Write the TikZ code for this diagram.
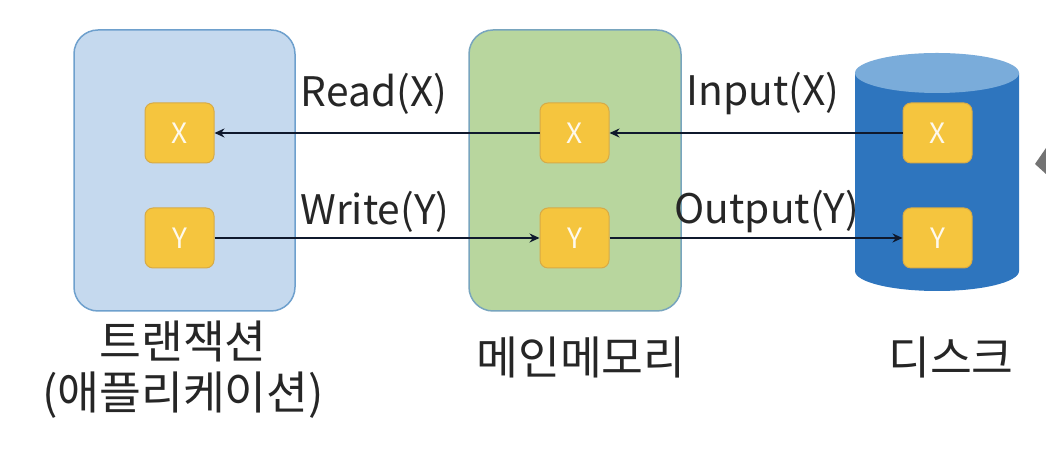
\documentclass[tikz,border=0pt]{standalone}
\usepackage{fontspec}
\setmainfont{Noto Sans CJK KR}
\usetikzlibrary{arrows.meta}
\definecolor{txnblue}{RGB}{197, 217, 238}
\definecolor{txnedge}{RGB}{110, 160, 205}
\definecolor{memgreen}{RGB}{184, 214, 158}
\definecolor{memedge}{RGB}{120, 165, 190}
\definecolor{diskblue}{RGB}{46, 117, 190}
\definecolor{disktop}{RGB}{122, 172, 218}
\definecolor{cellyellow}{RGB}{245, 197, 62}
\definecolor{celledge}{RGB}{215, 170, 70}
\definecolor{arrowdark}{RGB}{15, 25, 45}
\tikzset{
    panel/.style={draw, line width=1.5pt, rounded corners=24pt, inner sep=0pt, minimum height=281pt},
    cell/.style={fill=cellyellow, draw=celledge, line width=1pt, rounded corners=8pt, minimum width=69pt, minimum height=60pt, inner sep=0pt, text=white!90!cellyellow, font=\fontsize{28}{32}\selectfont},
    oplabel/.style={text=black!85, font=\fontsize{40.7}{46}\selectfont, inner sep=0pt},
    caption/.style={text=black!85, font=\fontsize{45.5}{52}\selectfont, inner sep=0pt},
    conn/.style={-{Stealth[length=10pt, width=9pt]}, arrowdark, line width=1.6pt}
}
\begin{document}
\begin{tikzpicture}[x=1pt, y=1pt]
    % Background, same proportions as the reference
    \fill[white] (0,0) rectangle (1046, 470);
    \useasboundingbox (0,0) rectangle (1046, 470);

    % Transaction and memory panels
    \node[panel, fill=txnblue, draw=txnedge, minimum width=221pt] (txn) at (184.5, 299.5) {};
    \node[panel, fill=memgreen, draw=memedge, minimum width=212pt] (mem) at (575, 299.5) {};

    % Disk cylinder
    \fill[diskblue] (855, 397) -- (855, 199)
        arc[start angle=180, end angle=360, x radius=82, y radius=20] -- (1019, 397) -- cycle;
    \fill[disktop] (937, 397) ellipse [x radius=82, y radius=20];

    % Cells for X and Y
    \foreach \name/\xpos in {txn/179.5, mem/574.5, disk/937.5} {
        \node[cell] (\name X) at (\xpos, 337) {X};
        \node[cell] (\name Y) at (\xpos, 232) {Y};
    }

    % Transfers
    \draw[conn] (diskX) -- (memX);
    \draw[conn] (memX) -- (txnX);
    \draw[conn] (txnY) -- (memY);
    \draw[conn] (memY) -- (diskY);

    % Operation labels
    \node[oplabel] (readX) at (374, 376) {Read(X)};
    \node[oplabel] (writeY) at (375, 258) {Write(Y)};
    \node[oplabel] (inputX) at (763, 376) {Input(X)};
    \node[oplabel] (outputY) at (767, 258) {Output(Y)};

    % Captions
    \node[caption] (txnName) at (183, 129) {트랜잭션};
    \node[caption] (txnSub) at (183, 75) {(애플리케이션)};
    \node[caption] (memName) at (581, 113) {메인메모리};
    \node[caption] (diskName) at (951, 113) {디스크};

    % Grey corner at the right edge
    \fill[black!55] (1046, 322) -- (1035, 306) -- (1046, 296) -- cycle;
\end{tikzpicture}
\end{document}
